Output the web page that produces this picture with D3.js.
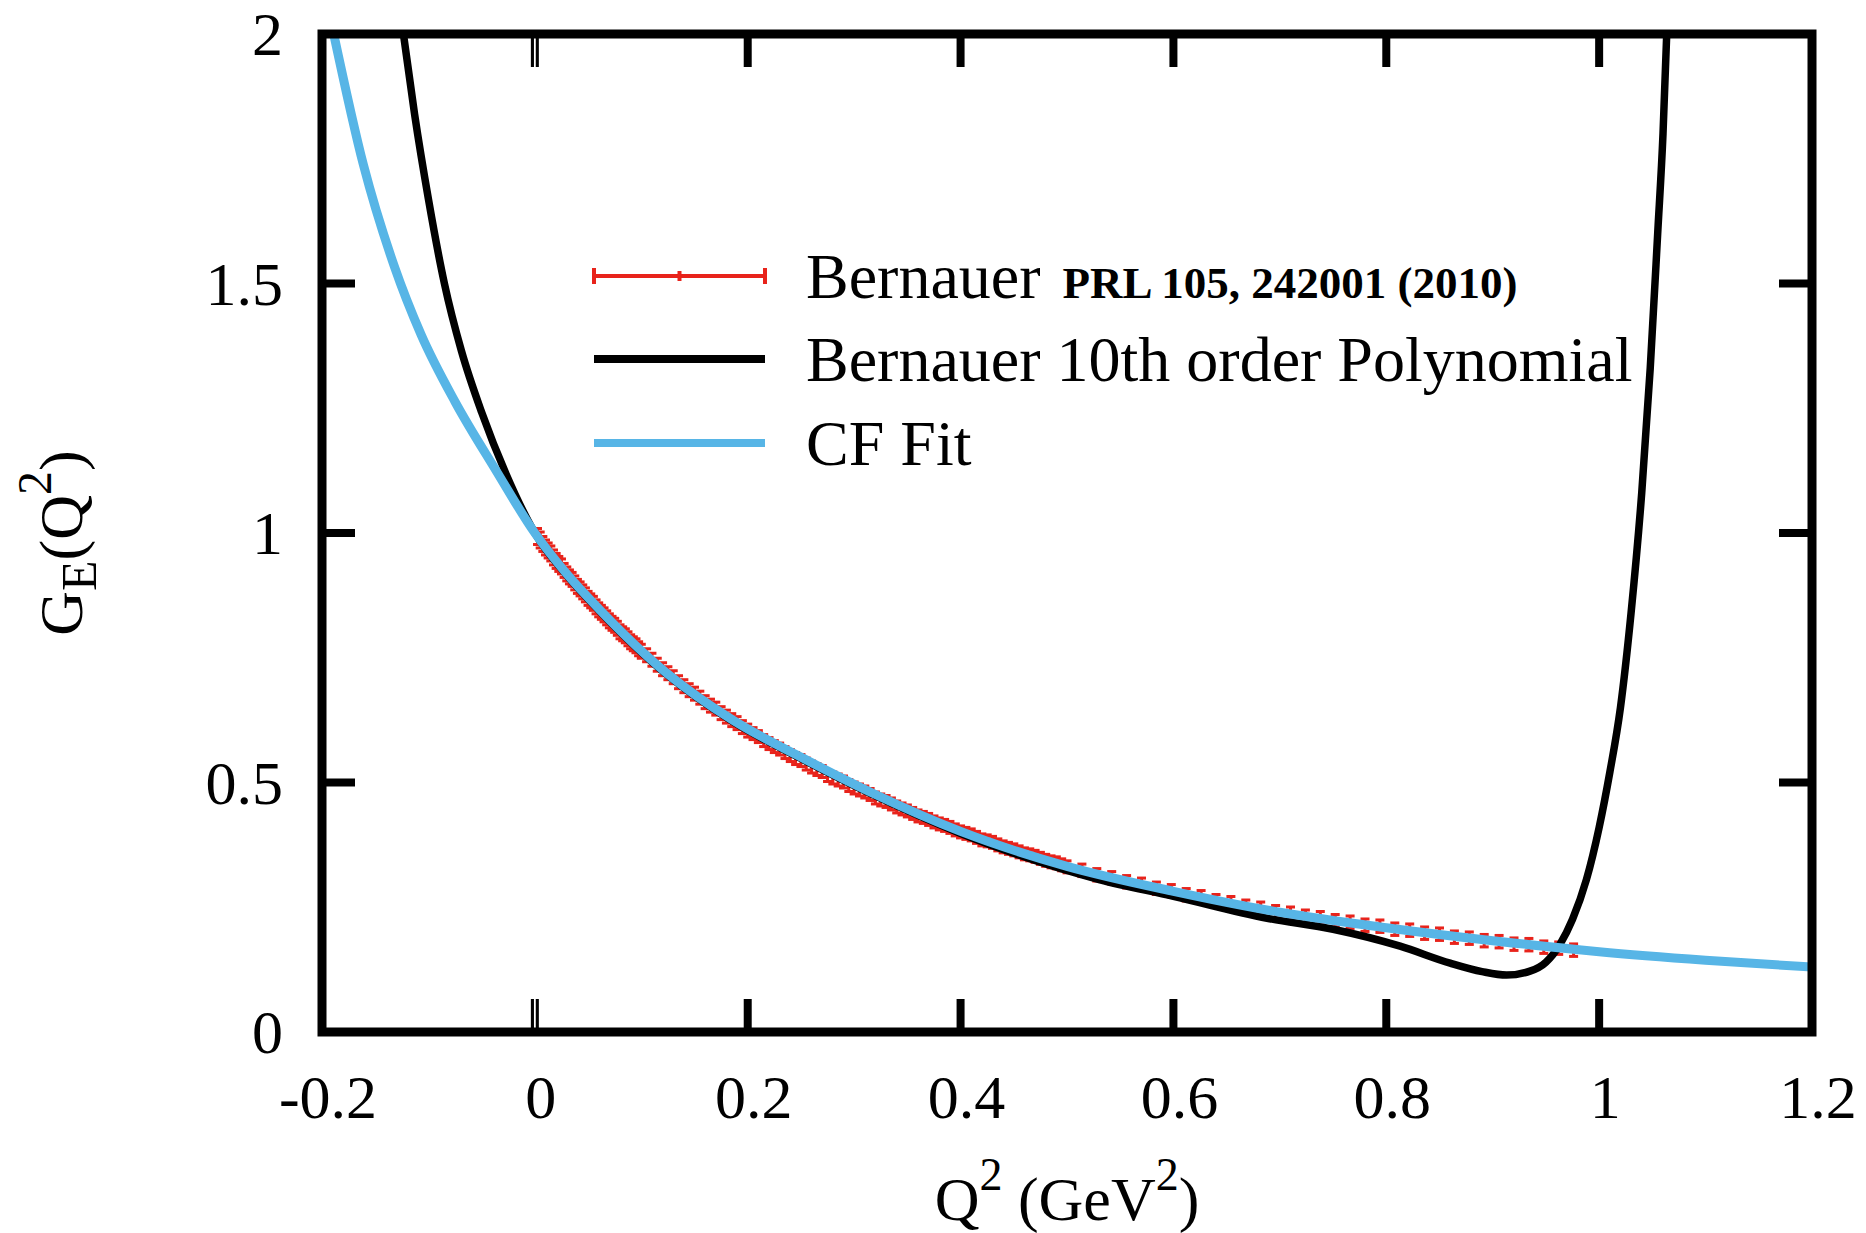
<!DOCTYPE html>
<html>
<head>
<meta charset="utf-8">
<script src="https://cdn.jsdelivr.net/npm/d3@7"></script>
<style>
  html, body { margin: 0; padding: 0; background: #fff; }
  svg { display: block; font-family: "Liberation Serif", "Times New Roman", serif; }
</style>
</head>
<body>
<svg id="chart" width="1866" height="1233"></svg>
<script>
// Axis ticks and their labels
const xTicks = [-0.2, 0, 0.2, 0.4, 0.6, 0.8, 1, 1.2];
const xTickLabels = ["-0.2", "0", "0.2", "0.4", "0.6", "0.8", "1", "1.2"];
const yTicks = [0, 0.5, 1, 1.5, 2];
const yTickLabels = ["0", "0.5", "1", "1.5", "2"];

// Bernauer et al. measured G_E(Q^2) with uncertainties
const bernQ2 = [
  0.0025, 0.005, 0.0075, 0.010, 0.0125, 0.015, 0.0175, 0.020, 0.0225, 0.025,
  0.0275, 0.030, 0.0325, 0.035, 0.0375, 0.040, 0.0425, 0.045, 0.0475, 0.050,
  0.0525, 0.055, 0.0575, 0.060, 0.0625, 0.065, 0.0675, 0.070, 0.0725, 0.075,
  0.0775, 0.080, 0.0825, 0.085, 0.0875, 0.090, 0.0925, 0.095, 0.0975, 0.100,
  0.105, 0.11, 0.115, 0.12, 0.125, 0.13, 0.135, 0.14, 0.145, 0.15,
  0.155, 0.16, 0.165, 0.17, 0.175, 0.18, 0.185, 0.19, 0.195, 0.20,
  0.205, 0.21, 0.215, 0.22, 0.225, 0.23, 0.235, 0.24, 0.245, 0.25,
  0.255, 0.26, 0.265, 0.27, 0.275, 0.28, 0.285, 0.29, 0.295, 0.30,
  0.305, 0.31, 0.315, 0.32, 0.325, 0.33, 0.335, 0.34, 0.345, 0.35,
  0.355, 0.36, 0.365, 0.37, 0.375, 0.38, 0.385, 0.39, 0.395, 0.40,
  0.405, 0.41, 0.415, 0.42, 0.425, 0.43, 0.435, 0.44, 0.445, 0.45,
  0.455, 0.46, 0.465, 0.47, 0.475, 0.48, 0.485, 0.49, 0.495, 0.50,
  0.514, 0.528, 0.542, 0.556, 0.570, 0.584, 0.598, 0.612, 0.626, 0.640,
  0.654, 0.668, 0.682, 0.696, 0.710, 0.724, 0.738, 0.752, 0.766, 0.780,
  0.794, 0.808, 0.822, 0.836, 0.850, 0.864, 0.878, 0.892, 0.906, 0.920,
  0.934, 0.948, 0.962, 0.976
];
const bernGE = [
  0.993, 0.986, 0.978, 0.971, 0.965, 0.959, 0.951, 0.944, 0.938, 0.933,
  0.925, 0.918, 0.912, 0.907, 0.900, 0.893, 0.888, 0.882, 0.876, 0.869,
  0.864, 0.859, 0.852, 0.846, 0.841, 0.836, 0.830, 0.824, 0.819, 0.815,
  0.809, 0.802, 0.798, 0.794, 0.788, 0.782, 0.778, 0.774, 0.768, 0.763,
  0.755, 0.746, 0.736, 0.727, 0.719, 0.711, 0.701, 0.693, 0.685, 0.678,
  0.670, 0.661, 0.654, 0.648, 0.639, 0.632, 0.625, 0.619, 0.611, 0.604,
  0.598, 0.592, 0.584, 0.578, 0.572, 0.567, 0.560, 0.554, 0.548, 0.544,
  0.537, 0.531, 0.526, 0.522, 0.514, 0.509, 0.505, 0.501, 0.494, 0.489,
  0.485, 0.481, 0.476, 0.469, 0.465, 0.462, 0.457, 0.451, 0.447, 0.443,
  0.438, 0.433, 0.430, 0.426, 0.421, 0.417, 0.414, 0.410, 0.405, 0.401,
  0.398, 0.395, 0.390, 0.385, 0.383, 0.380, 0.375, 0.371, 0.368, 0.365,
  0.361, 0.357, 0.355, 0.352, 0.348, 0.344, 0.341, 0.339, 0.335, 0.331,
  0.324, 0.315, 0.309, 0.301, 0.296, 0.288, 0.283, 0.275, 0.271, 0.263,
  0.259, 0.252, 0.248, 0.241, 0.238, 0.232, 0.229, 0.223, 0.220, 0.214,
  0.212, 0.206, 0.204, 0.198, 0.196, 0.190, 0.188, 0.183, 0.181, 0.176,
  0.175, 0.170, 0.168, 0.164
];
const bernErr = [
  0.016, 0.016, 0.015, 0.015, 0.015, 0.015, 0.015, 0.015, 0.015, 0.015,
  0.014, 0.014, 0.014, 0.014, 0.014, 0.014, 0.014, 0.014, 0.014, 0.014,
  0.014, 0.014, 0.014, 0.014, 0.014, 0.014, 0.014, 0.014, 0.014, 0.014,
  0.014, 0.014, 0.014, 0.014, 0.014, 0.014, 0.014, 0.014, 0.014, 0.014,
  0.013, 0.013, 0.013, 0.013, 0.013, 0.013, 0.013, 0.013, 0.013, 0.013,
  0.013, 0.013, 0.013, 0.013, 0.013, 0.013, 0.013, 0.013, 0.013, 0.013,
  0.012, 0.012, 0.012, 0.012, 0.012, 0.012, 0.012, 0.012, 0.012, 0.012,
  0.012, 0.012, 0.012, 0.012, 0.012, 0.012, 0.012, 0.012, 0.012, 0.012,
  0.012, 0.012, 0.012, 0.012, 0.012, 0.012, 0.012, 0.012, 0.012, 0.012,
  0.012, 0.012, 0.012, 0.012, 0.012, 0.012, 0.012, 0.012, 0.012, 0.012,
  0.012, 0.012, 0.012, 0.012, 0.012, 0.012, 0.012, 0.012, 0.012, 0.012,
  0.012, 0.012, 0.012, 0.012, 0.012, 0.012, 0.012, 0.012, 0.012, 0.012,
  0.0125, 0.0125, 0.0125, 0.0125, 0.0125, 0.0125, 0.0125, 0.0125, 0.0125, 0.0125,
  0.0125, 0.0125, 0.0125, 0.0125, 0.0125, 0.0125, 0.0125, 0.0125, 0.0125, 0.0125,
  0.0125, 0.0125, 0.0125, 0.0125, 0.0125, 0.0125, 0.0125, 0.0125, 0.0125, 0.0125,
  0.0125, 0.0125, 0.0125, 0.0125
];

// Bernauer 10th order polynomial parametrisation
const polyQ2 = [
  -0.1235, -0.113, -0.100, -0.085, -0.069, -0.050, -0.027, 0.000,
  0.030, 0.061, 0.124, 0.186, 0.249, 0.318, 0.400, 0.531, 0.600,
  0.688, 0.750, 0.813, 0.860, 0.890, 0.913, 0.935, 0.950, 0.963,
  0.975, 0.988, 1.000, 1.010, 1.020, 1.030, 1.040, 1.048, 1.055,
  1.060, 1.0635
];
const polyGE = [
  2.000, 1.839, 1.669, 1.500, 1.365, 1.242, 1.118, 1.000,
  0.915, 0.843, 0.716, 0.622, 0.549, 0.475, 0.398, 0.305, 0.272,
  0.228, 0.206, 0.172, 0.138, 0.121, 0.114, 0.122, 0.140, 0.175,
  0.226, 0.305, 0.410, 0.520, 0.650, 0.840, 1.080, 1.330, 1.600,
  1.800, 2.000
];

// Continued-fraction fit
const cfQ2 = [
  -0.189, -0.161, -0.132, -0.107, -0.075, -0.037, 0.000, 0.030,
  0.061, 0.124, 0.186, 0.249, 0.318, 0.400, 0.500, 0.600, 0.700,
  0.800, 0.900, 1.000, 1.100, 1.200
];
const cfGE = [
  2.000, 1.737, 1.534, 1.398, 1.263, 1.127, 1.000, 0.918,
  0.846, 0.719, 0.625, 0.552, 0.478, 0.402, 0.332, 0.282, 0.240,
  0.209, 0.183, 0.161, 0.144, 0.130
];

const legendLabels = ["Bernauer", "Bernauer 10th order Polynomial", "CF Fit"];
const legendRef = "PRL 105, 242001 (2010)";

// ---- drawing ----
const RED = "#e8231b", BLUE = "#57b5e6", BLACK = "#000";
const svg = d3.select("#chart");
const plot = { left: 322, right: 1812, top: 34, bottom: 1032 };

const x = d3.scaleLinear().domain([-0.2, 1.2]).range([plot.left, plot.right]);
const y = d3.scaleLinear().domain([0, 2]).range([plot.bottom, plot.top]);

svg.append("defs").append("clipPath").attr("id", "plotClip")
  .append("rect")
  .attr("x", plot.left).attr("y", plot.top)
  .attr("width", plot.right - plot.left).attr("height", plot.bottom - plot.top);

const body = svg.append("g").attr("clip-path", "url(#plotClip)");

// error bars of the data
const bern = bernQ2.map((q, i) => ({ q, g: bernGE[i], e: bernErr[i] }));
const capHalf = 4.5;
const bars = body.append("g").attr("stroke", RED).attr("stroke-width", 3).attr("fill", "none");
bern.forEach(d => {
  const cx = x(d.q), lo = y(d.g - d.e), hi = y(d.g + d.e);
  bars.append("line").attr("x1", cx).attr("x2", cx).attr("y1", lo).attr("y2", hi);
  bars.append("line").attr("x1", cx - capHalf).attr("x2", cx + capHalf).attr("y1", lo).attr("y2", lo);
  bars.append("line").attr("x1", cx - capHalf).attr("x2", cx + capHalf).attr("y1", hi).attr("y2", hi);
});

const line = d3.line().x(d => x(d[0])).y(d => y(d[1])).curve(d3.curveMonotoneX);

body.append("path")
  .attr("d", line(polyQ2.map((q, i) => [q, polyGE[i]])))
  .attr("fill", "none").attr("stroke", BLACK).attr("stroke-width", 7.5)
  .attr("stroke-linejoin", "round");

body.append("path")
  .attr("d", line(cfQ2.map((q, i) => [q, cfGE[i]])))
  .attr("fill", "none").attr("stroke", BLUE).attr("stroke-width", 9)
  .attr("stroke-linejoin", "round");

// frame and inward ticks on all four sides
const tickLen = 33, tickW = 8;
const ticks = svg.append("g").attr("stroke", BLACK).attr("stroke-width", tickW);
xTicks.forEach(t => {
  ticks.append("line").attr("x1", x(t)).attr("x2", x(t)).attr("y1", plot.bottom).attr("y2", plot.bottom - tickLen);
  ticks.append("line").attr("x1", x(t)).attr("x2", x(t)).attr("y1", plot.top).attr("y2", plot.top + tickLen);
});
yTicks.forEach(t => {
  ticks.append("line").attr("x1", plot.left).attr("x2", plot.left + tickLen).attr("y1", y(t)).attr("y2", y(t));
  ticks.append("line").attr("x1", plot.right).attr("x2", plot.right - tickLen).attr("y1", y(t)).attr("y2", y(t));
});
// zero tick is drawn as a split double line
[[plot.bottom - 4, plot.bottom - tickLen], [plot.top + 4, plot.top + tickLen]].forEach(([a, b]) => {
  svg.append("line").attr("x1", x(0)).attr("x2", x(0)).attr("y1", a).attr("y2", b)
    .attr("stroke", "#fff").attr("stroke-width", 1.8);
});

svg.append("rect")
  .attr("x", plot.left).attr("y", plot.top)
  .attr("width", plot.right - plot.left).attr("height", plot.bottom - plot.top)
  .attr("fill", "none").attr("stroke", BLACK).attr("stroke-width", 9);

// tick labels
const fs = 62;
svg.append("g").selectAll("text").data(xTicks).join("text")
  .attr("x", d => x(d) + 6).attr("y", 1118)
  .attr("text-anchor", "middle").attr("font-size", fs)
  .text((d, i) => xTickLabels[i]);

svg.append("g").selectAll("text").data(yTicks).join("text")
  .attr("x", 283).attr("y", d => y(d) + 21)
  .attr("text-anchor", "end").attr("font-size", fs)
  .text((d, i) => yTickLabels[i]);

// axis titles
const xt = svg.append("text").attr("x", (plot.left + plot.right) / 2).attr("y", 1220)
  .attr("text-anchor", "middle").attr("font-size", fs);
xt.append("tspan").text("Q");
xt.append("tspan").attr("font-size", 46).attr("dy", -30).text("2");
xt.append("tspan").attr("dy", 30).text(" (GeV");
xt.append("tspan").attr("font-size", 46).attr("dy", -30).text("2");
xt.append("tspan").attr("dy", 30).text(")");

const yt = svg.append("text").attr("transform", "translate(82,543) rotate(-90)")
  .attr("text-anchor", "middle").attr("font-size", fs);
yt.append("tspan").text("G");
yt.append("tspan").attr("font-size", 50).attr("dy", 14).text("E");
yt.append("tspan").attr("dy", -14).text("(Q");
yt.append("tspan").attr("font-size", 48).attr("dy", -31).text("2");
yt.append("tspan").attr("dy", 31).text(")");

// legend
const legX0 = 594, legX1 = 765, legText = 806;
const rows = [276, 359, 443];
const lfs = 64;
const lg = svg.append("g");
// error-bar sample
lg.append("line").attr("x1", legX0).attr("x2", legX1).attr("y1", rows[0]).attr("y2", rows[0])
  .attr("stroke", RED).attr("stroke-width", 4);
[[legX0, 8], [legX1, 8], [(legX0 + legX1) / 2, 5]].forEach(([cx, h]) => {
  lg.append("line").attr("x1", cx).attr("x2", cx).attr("y1", rows[0] - h).attr("y2", rows[0] + h)
    .attr("stroke", RED).attr("stroke-width", 4);
});
lg.append("line").attr("x1", legX0).attr("x2", legX1).attr("y1", rows[1]).attr("y2", rows[1])
  .attr("stroke", BLACK).attr("stroke-width", 8);
lg.append("line").attr("x1", legX0).attr("x2", legX1).attr("y1", rows[2]).attr("y2", rows[2])
  .attr("stroke", BLUE).attr("stroke-width", 8);

const t0 = lg.append("text").attr("x", legText).attr("y", rows[0] + 22).attr("font-size", lfs);
t0.append("tspan").text(legendLabels[0]);
t0.append("tspan").attr("dx", 22).attr("font-size", 45).attr("font-weight", "bold").text(legendRef);
lg.append("text").attr("x", legText).attr("y", rows[1] + 22).attr("font-size", lfs).text(legendLabels[1]);
lg.append("text").attr("x", legText).attr("y", rows[2] + 22).attr("font-size", lfs).text(legendLabels[2]);
</script>
</body>
</html>
